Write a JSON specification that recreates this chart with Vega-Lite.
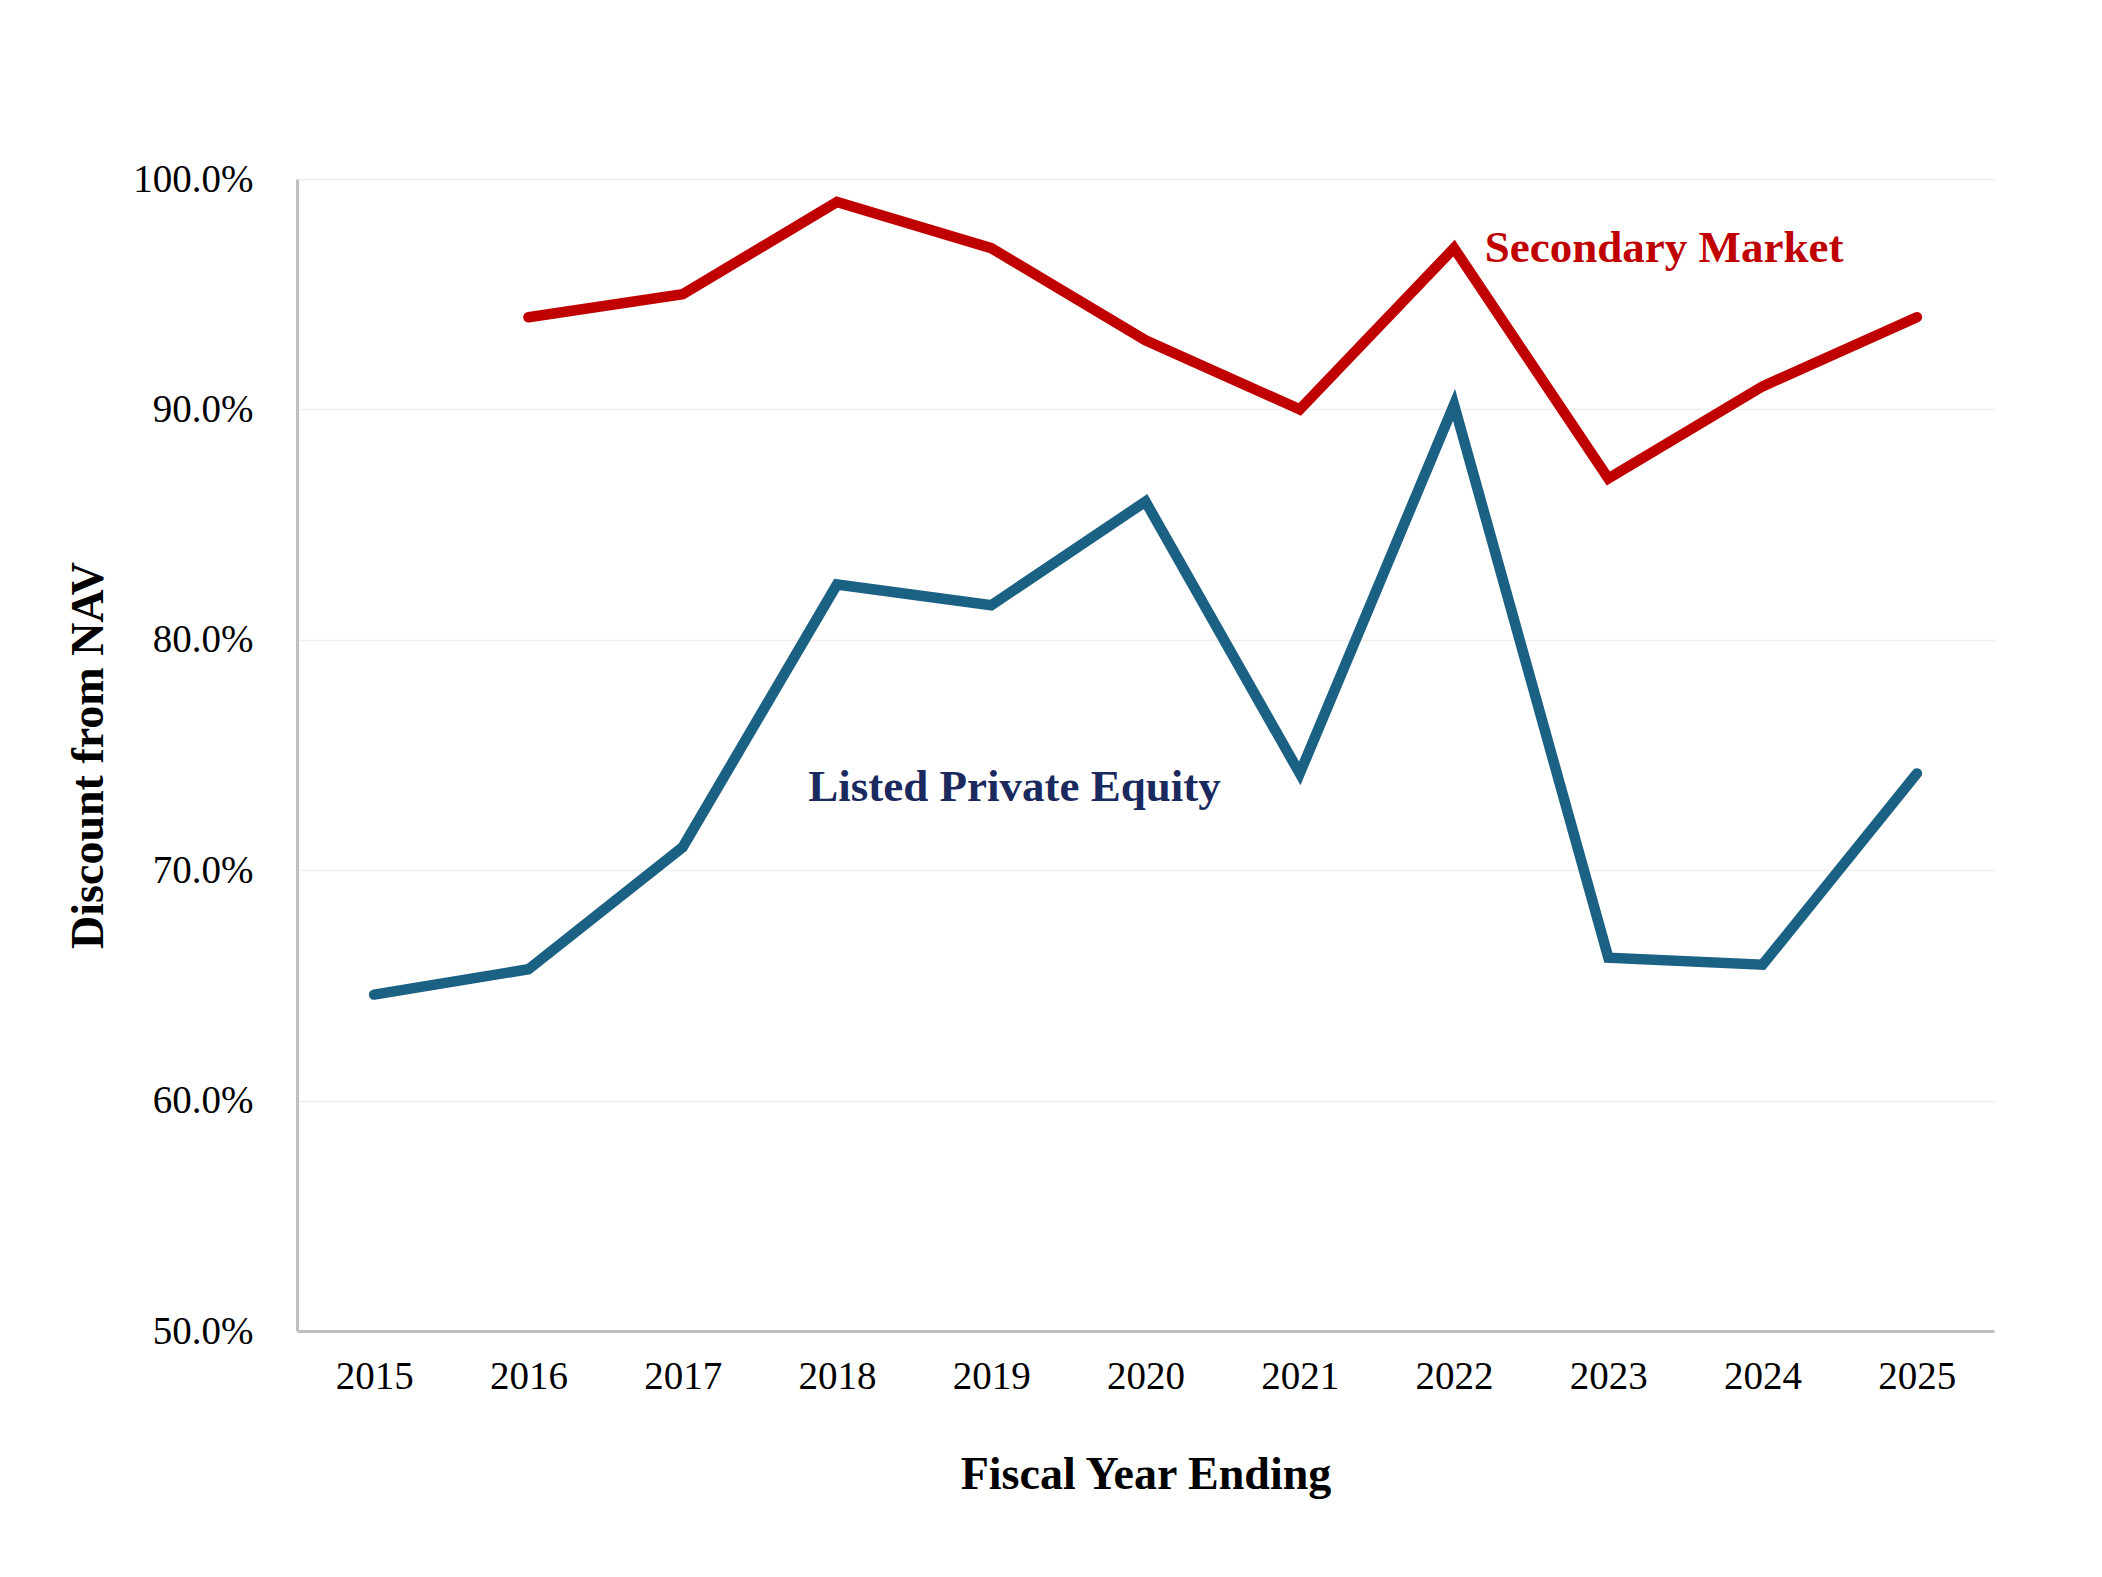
{
  "$schema": "https://vega.github.io/schema/vega-lite/v6.json",
  "width": 1697,
  "height": 1152,
  "autosize": {"type": "none"},
  "padding": {"left": 297, "top": 179, "right": 108, "bottom": 246},
  "background": "white",
  "config": {
    "font": "Liberation Serif",
    "view": {"stroke": null},
    "axis": {"labelFont": "Liberation Serif", "titleFont": "Liberation Serif", "labelColor": "black", "titleColor": "black"}
  },
  "datasets": {
    "series": [
      {"year": "2016", "value": 94, "series": "Secondary Market"},
      {"year": "2017", "value": 95, "series": "Secondary Market"},
      {"year": "2018", "value": 99, "series": "Secondary Market"},
      {"year": "2019", "value": 97, "series": "Secondary Market"},
      {"year": "2020", "value": 93, "series": "Secondary Market"},
      {"year": "2021", "value": 90, "series": "Secondary Market"},
      {"year": "2022", "value": 97, "series": "Secondary Market"},
      {"year": "2023", "value": 87, "series": "Secondary Market"},
      {"year": "2024", "value": 91, "series": "Secondary Market"},
      {"year": "2025", "value": 94, "series": "Secondary Market"},
      {"year": "2015", "value": 64.6, "series": "Listed Private Equity"},
      {"year": "2016", "value": 65.7, "series": "Listed Private Equity"},
      {"year": "2017", "value": 71.0, "series": "Listed Private Equity"},
      {"year": "2018", "value": 82.4, "series": "Listed Private Equity"},
      {"year": "2019", "value": 81.5, "series": "Listed Private Equity"},
      {"year": "2020", "value": 86.0, "series": "Listed Private Equity"},
      {"year": "2021", "value": 74.2, "series": "Listed Private Equity"},
      {"year": "2022", "value": 90.2, "series": "Listed Private Equity"},
      {"year": "2023", "value": 66.2, "series": "Listed Private Equity"},
      {"year": "2024", "value": 65.9, "series": "Listed Private Equity"},
      {"year": "2025", "value": 74.2, "series": "Listed Private Equity"}
    ],
    "labels": [
      {"year": "2023", "value": 97, "label": "Secondary Market", "series": "Secondary Market"},
      {"year": "2019", "value": 73.6, "label": "Listed Private Equity", "series": "Listed Private Equity"}
    ]
  },
  "encoding": {
    "x": {
      "field": "year", "type": "ordinal",
      "scale": {"type": "point", "padding": 0.5, "domain": ["2015","2016","2017","2018","2019","2020","2021","2022","2023","2024","2025"]},
      "axis": {"title": "Fiscal Year Ending", "labelAngle": 0, "labelFontSize": 39, "titleFontSize": 46, "titleFontWeight": "bold", "ticks": false, "labelPadding": 26, "titlePadding": 56, "domainColor": "#bfbfbf", "domainWidth": 3, "grid": false}
    },
    "y": {
      "field": "value", "type": "quantitative",
      "scale": {"domain": [50, 100], "nice": false},
      "axis": {"title": "Discount from NAV", "values": [50, 60, 70, 80, 90, 100], "labelExpr": "format(datum.value, '.1f') + '%'", "labelFontSize": 39, "titleFontSize": 46, "titleFontWeight": "bold", "ticks": false, "labelPadding": 44, "titlePadding": 20, "domainColor": "#bfbfbf", "domainWidth": 3, "gridColor": "#eeeeee", "gridWidth": 1.5}
    },
    "color": {
      "field": "series", "type": "nominal",
      "scale": {"domain": ["Secondary Market", "Listed Private Equity"], "range": ["#C00000", "#1B6183"]},
      "legend": null
    }
  },
  "layer": [
    {"data": {"name": "series"}, "mark": {"type": "line", "strokeWidth": 10.5, "strokeJoin": "miter", "strokeCap": "round"}},
    {
      "data": {"name": "labels"},
      "mark": {"type": "text", "fontSize": 45, "fontWeight": "bold", "align": "center", "baseline": "middle"},
      "encoding": {
        "text": {"field": "label"},
        "xOffset": {"field": "label", "type": "nominal", "scale": {"domain": ["Secondary Market", "Listed Private Equity"], "range": [72, 7]}},
        "color": {"field": "series", "type": "nominal", "scale": {"domain": ["Secondary Market", "Listed Private Equity"], "range": ["#C00000", "#1B2A5E"]}, "legend": null}
      }
    }
  ],
  "resolve": {"scale": {"color": "independent"}}
}
